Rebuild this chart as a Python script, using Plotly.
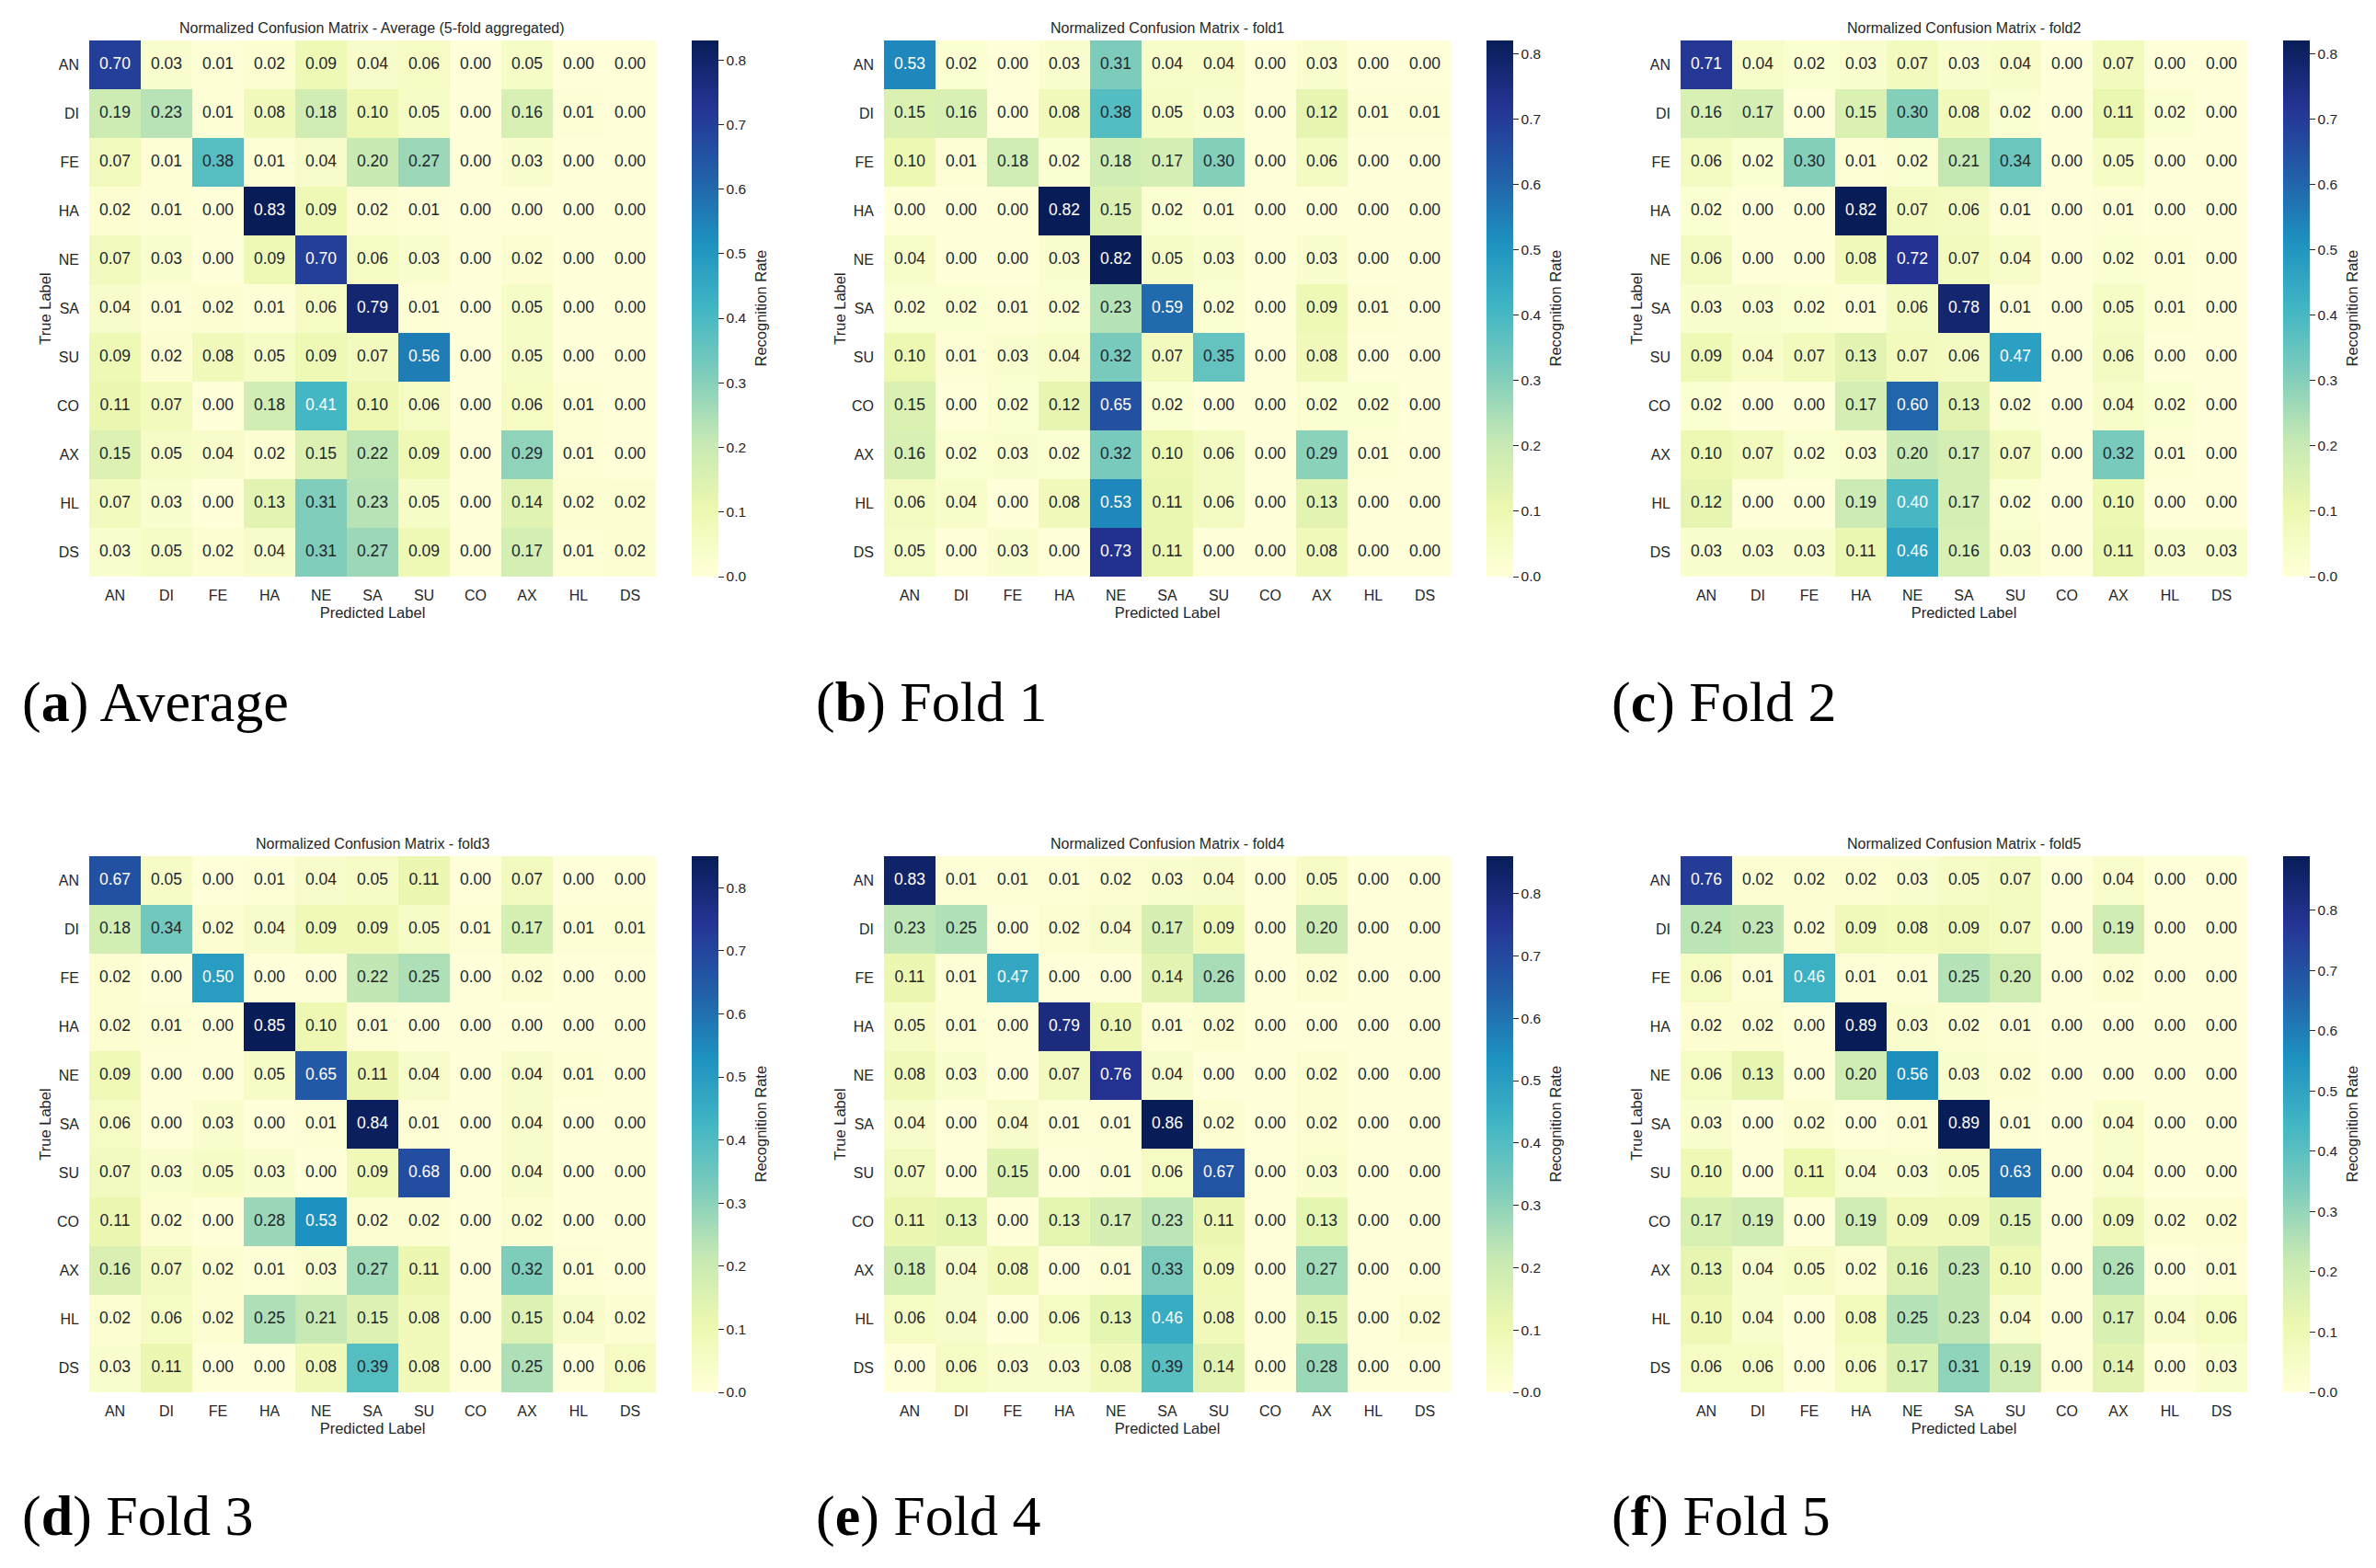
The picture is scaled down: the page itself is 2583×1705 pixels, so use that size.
import plotly.graph_objects as go
from plotly.colors import sequential, sample_colorscale

labels = ["AN", "DI", "FE", "HA", "NE", "SA", "SU", "CO", "AX", "HL", "DS"]

avg = [
    [0.70, 0.03, 0.01, 0.02, 0.09, 0.04, 0.06, 0.00, 0.05, 0.00, 0.00],
    [0.19, 0.23, 0.01, 0.08, 0.18, 0.10, 0.05, 0.00, 0.16, 0.01, 0.00],
    [0.07, 0.01, 0.38, 0.01, 0.04, 0.20, 0.27, 0.00, 0.03, 0.00, 0.00],
    [0.02, 0.01, 0.00, 0.83, 0.09, 0.02, 0.01, 0.00, 0.00, 0.00, 0.00],
    [0.07, 0.03, 0.00, 0.09, 0.70, 0.06, 0.03, 0.00, 0.02, 0.00, 0.00],
    [0.04, 0.01, 0.02, 0.01, 0.06, 0.79, 0.01, 0.00, 0.05, 0.00, 0.00],
    [0.09, 0.02, 0.08, 0.05, 0.09, 0.07, 0.56, 0.00, 0.05, 0.00, 0.00],
    [0.11, 0.07, 0.00, 0.18, 0.41, 0.10, 0.06, 0.00, 0.06, 0.01, 0.00],
    [0.15, 0.05, 0.04, 0.02, 0.15, 0.22, 0.09, 0.00, 0.29, 0.01, 0.00],
    [0.07, 0.03, 0.00, 0.13, 0.31, 0.23, 0.05, 0.00, 0.14, 0.02, 0.02],
    [0.03, 0.05, 0.02, 0.04, 0.31, 0.27, 0.09, 0.00, 0.17, 0.01, 0.02],
]
fold1 = [
    [0.53, 0.02, 0.00, 0.03, 0.31, 0.04, 0.04, 0.00, 0.03, 0.00, 0.00],
    [0.15, 0.16, 0.00, 0.08, 0.38, 0.05, 0.03, 0.00, 0.12, 0.01, 0.01],
    [0.10, 0.01, 0.18, 0.02, 0.18, 0.17, 0.30, 0.00, 0.06, 0.00, 0.00],
    [0.00, 0.00, 0.00, 0.82, 0.15, 0.02, 0.01, 0.00, 0.00, 0.00, 0.00],
    [0.04, 0.00, 0.00, 0.03, 0.82, 0.05, 0.03, 0.00, 0.03, 0.00, 0.00],
    [0.02, 0.02, 0.01, 0.02, 0.23, 0.59, 0.02, 0.00, 0.09, 0.01, 0.00],
    [0.10, 0.01, 0.03, 0.04, 0.32, 0.07, 0.35, 0.00, 0.08, 0.00, 0.00],
    [0.15, 0.00, 0.02, 0.12, 0.65, 0.02, 0.00, 0.00, 0.02, 0.02, 0.00],
    [0.16, 0.02, 0.03, 0.02, 0.32, 0.10, 0.06, 0.00, 0.29, 0.01, 0.00],
    [0.06, 0.04, 0.00, 0.08, 0.53, 0.11, 0.06, 0.00, 0.13, 0.00, 0.00],
    [0.05, 0.00, 0.03, 0.00, 0.73, 0.11, 0.00, 0.00, 0.08, 0.00, 0.00],
]
fold2 = [
    [0.71, 0.04, 0.02, 0.03, 0.07, 0.03, 0.04, 0.00, 0.07, 0.00, 0.00],
    [0.16, 0.17, 0.00, 0.15, 0.30, 0.08, 0.02, 0.00, 0.11, 0.02, 0.00],
    [0.06, 0.02, 0.30, 0.01, 0.02, 0.21, 0.34, 0.00, 0.05, 0.00, 0.00],
    [0.02, 0.00, 0.00, 0.82, 0.07, 0.06, 0.01, 0.00, 0.01, 0.00, 0.00],
    [0.06, 0.00, 0.00, 0.08, 0.72, 0.07, 0.04, 0.00, 0.02, 0.01, 0.00],
    [0.03, 0.03, 0.02, 0.01, 0.06, 0.78, 0.01, 0.00, 0.05, 0.01, 0.00],
    [0.09, 0.04, 0.07, 0.13, 0.07, 0.06, 0.47, 0.00, 0.06, 0.00, 0.00],
    [0.02, 0.00, 0.00, 0.17, 0.60, 0.13, 0.02, 0.00, 0.04, 0.02, 0.00],
    [0.10, 0.07, 0.02, 0.03, 0.20, 0.17, 0.07, 0.00, 0.32, 0.01, 0.00],
    [0.12, 0.00, 0.00, 0.19, 0.40, 0.17, 0.02, 0.00, 0.10, 0.00, 0.00],
    [0.03, 0.03, 0.03, 0.11, 0.46, 0.16, 0.03, 0.00, 0.11, 0.03, 0.03],
]
fold3 = [
    [0.67, 0.05, 0.00, 0.01, 0.04, 0.05, 0.11, 0.00, 0.07, 0.00, 0.00],
    [0.18, 0.34, 0.02, 0.04, 0.09, 0.09, 0.05, 0.01, 0.17, 0.01, 0.01],
    [0.02, 0.00, 0.50, 0.00, 0.00, 0.22, 0.25, 0.00, 0.02, 0.00, 0.00],
    [0.02, 0.01, 0.00, 0.85, 0.10, 0.01, 0.00, 0.00, 0.00, 0.00, 0.00],
    [0.09, 0.00, 0.00, 0.05, 0.65, 0.11, 0.04, 0.00, 0.04, 0.01, 0.00],
    [0.06, 0.00, 0.03, 0.00, 0.01, 0.84, 0.01, 0.00, 0.04, 0.00, 0.00],
    [0.07, 0.03, 0.05, 0.03, 0.00, 0.09, 0.68, 0.00, 0.04, 0.00, 0.00],
    [0.11, 0.02, 0.00, 0.28, 0.53, 0.02, 0.02, 0.00, 0.02, 0.00, 0.00],
    [0.16, 0.07, 0.02, 0.01, 0.03, 0.27, 0.11, 0.00, 0.32, 0.01, 0.00],
    [0.02, 0.06, 0.02, 0.25, 0.21, 0.15, 0.08, 0.00, 0.15, 0.04, 0.02],
    [0.03, 0.11, 0.00, 0.00, 0.08, 0.39, 0.08, 0.00, 0.25, 0.00, 0.06],
]
fold4 = [
    [0.83, 0.01, 0.01, 0.01, 0.02, 0.03, 0.04, 0.00, 0.05, 0.00, 0.00],
    [0.23, 0.25, 0.00, 0.02, 0.04, 0.17, 0.09, 0.00, 0.20, 0.00, 0.00],
    [0.11, 0.01, 0.47, 0.00, 0.00, 0.14, 0.26, 0.00, 0.02, 0.00, 0.00],
    [0.05, 0.01, 0.00, 0.79, 0.10, 0.01, 0.02, 0.00, 0.00, 0.00, 0.00],
    [0.08, 0.03, 0.00, 0.07, 0.76, 0.04, 0.00, 0.00, 0.02, 0.00, 0.00],
    [0.04, 0.00, 0.04, 0.01, 0.01, 0.86, 0.02, 0.00, 0.02, 0.00, 0.00],
    [0.07, 0.00, 0.15, 0.00, 0.01, 0.06, 0.67, 0.00, 0.03, 0.00, 0.00],
    [0.11, 0.13, 0.00, 0.13, 0.17, 0.23, 0.11, 0.00, 0.13, 0.00, 0.00],
    [0.18, 0.04, 0.08, 0.00, 0.01, 0.33, 0.09, 0.00, 0.27, 0.00, 0.00],
    [0.06, 0.04, 0.00, 0.06, 0.13, 0.46, 0.08, 0.00, 0.15, 0.00, 0.02],
    [0.00, 0.06, 0.03, 0.03, 0.08, 0.39, 0.14, 0.00, 0.28, 0.00, 0.00],
]
fold5 = [
    [0.76, 0.02, 0.02, 0.02, 0.03, 0.05, 0.07, 0.00, 0.04, 0.00, 0.00],
    [0.24, 0.23, 0.02, 0.09, 0.08, 0.09, 0.07, 0.00, 0.19, 0.00, 0.00],
    [0.06, 0.01, 0.46, 0.01, 0.01, 0.25, 0.20, 0.00, 0.02, 0.00, 0.00],
    [0.02, 0.02, 0.00, 0.89, 0.03, 0.02, 0.01, 0.00, 0.00, 0.00, 0.00],
    [0.06, 0.13, 0.00, 0.20, 0.56, 0.03, 0.02, 0.00, 0.00, 0.00, 0.00],
    [0.03, 0.00, 0.02, 0.00, 0.01, 0.89, 0.01, 0.00, 0.04, 0.00, 0.00],
    [0.10, 0.00, 0.11, 0.04, 0.03, 0.05, 0.63, 0.00, 0.04, 0.00, 0.00],
    [0.17, 0.19, 0.00, 0.19, 0.09, 0.09, 0.15, 0.00, 0.09, 0.02, 0.02],
    [0.13, 0.04, 0.05, 0.02, 0.16, 0.23, 0.10, 0.00, 0.26, 0.00, 0.01],
    [0.10, 0.04, 0.00, 0.08, 0.25, 0.23, 0.04, 0.00, 0.17, 0.04, 0.06],
    [0.06, 0.06, 0.00, 0.06, 0.17, 0.31, 0.19, 0.00, 0.14, 0.00, 0.03],
]

matrices = [avg, fold1, fold2, fold3, fold4, fold5]
titles = ["Average (5-fold aggregated)", "fold1", "fold2", "fold3", "fold4", "fold5"]
captions = [("a", "Average"), ("b", "Fold 1"), ("c", "Fold 2"),
            ("d", "Fold 3"), ("e", "Fold 4"), ("f", "Fold 5")]
cbar_ticks = [0.0, 0.1, 0.2, 0.3, 0.4, 0.5, 0.6, 0.7, 0.8]

# page is 2583x1705, the html body adds an 8px margin
PAGE_W, PAGE_H = 2583, 1705
OFF = 8
W, H = PAGE_W - 2 * OFF, PAGE_H - 2 * OFF

# pixel layout of each panel (page coordinates)
hm_left = [97, 961, 1827]
hm_top = [44, 931]
hm_w, hm_h = 616, 583
cb_off = 655
cbt_off = 729
cap_x = [22, 885, 1750]
cap_y = [763, 1648]

SANS = "Liberation Sans, Arial, sans-serif"
TXT = "#262626"
scale = [[i / (len(sequential.YlGnBu) - 1), c] for i, c in enumerate(sequential.YlGnBu)]


def px(x):
    return (x - OFF) / W


def py(y):
    return 1 - (y - OFF) / H


def lum(rgb):
    vals = [int(v) for v in rgb[rgb.index("(") + 1:-1].split(",")]
    out = []
    for v in vals:
        v = v / 255.0
        out.append(v / 12.92 if v <= 0.03928 else ((v + 0.055) / 1.055) ** 2.4)
    return 0.2126 * out[0] + 0.7152 * out[1] + 0.0722 * out[2]


fig = go.Figure()
layout = {}
annotations = []

for k, mat in enumerate(matrices):
    row, col = divmod(k, 3)
    n = k + 1
    sfx = "" if n == 1 else str(n)
    x0 = hm_left[col]
    y0 = hm_top[row]
    zmax = max(max(r) for r in mat)

    fig.add_trace(go.Heatmap(
        z=mat, x=labels, y=labels,
        coloraxis="coloraxis" + sfx,
        xaxis="x" + sfx, yaxis="y" + sfx,
        xgap=0, ygap=0, hoverinfo="skip",
    ))

    # cell labels, white on dark cells like seaborn
    xs, ys, ts, cs = [], [], [], []
    for i, r in enumerate(mat):
        for j, v in enumerate(r):
            c = sample_colorscale(scale, [v / zmax])[0]
            xs.append(labels[j])
            ys.append(labels[i])
            ts.append("%.2f" % v)
            cs.append(TXT if lum(c) > 0.408 else "white")
    fig.add_trace(go.Scatter(
        x=xs, y=ys, text=ts, mode="text",
        textfont=dict(family=SANS, size=17.5, color=cs),
        xaxis="x" + sfx, yaxis="y" + sfx,
        hoverinfo="skip", showlegend=False,
    ))

    layout["xaxis" + sfx] = dict(
        domain=[px(x0), px(x0 + hm_w)], anchor="y" + sfx,
        range=[-0.5, len(labels) - 0.5],
        showgrid=False, zeroline=False, showline=False, ticks="",
        ticklabelstandoff=9,
        tickfont=dict(family=SANS, size=16, color=TXT),
        title=dict(text="Predicted Label", standoff=5,
                   font=dict(family=SANS, size=16.5, color=TXT)),
    )
    layout["yaxis" + sfx] = dict(
        domain=[py(y0 + hm_h), py(y0)], anchor="x" + sfx,
        range=[len(labels) - 0.5, -0.5],
        showgrid=False, zeroline=False, showline=False, ticks="",
        ticklabelstandoff=10,
        tickfont=dict(family=SANS, size=16, color=TXT),
        title=dict(text="True Label", standoff=2,
                   font=dict(family=SANS, size=16.5, color=TXT)),
    )
    layout["coloraxis" + sfx] = dict(
        colorscale=scale, cmin=0, cmax=zmax,
        colorbar=dict(
            x=px(x0 + cb_off), xanchor="left", xpad=0,
            y=py(y0 + hm_h / 2), yanchor="middle", ypad=0,
            len=hm_h / H, lenmode="fraction",
            thickness=29, thicknessmode="pixels",
            outlinewidth=0,
            ticks="outside", ticklen=6, tickwidth=1, tickcolor=TXT,
            tickvals=cbar_ticks, ticktext=["%.1f" % t for t in cbar_ticks],
            tickfont=dict(family=SANS, size=15.5, color=TXT),
        ),
    )

    annotations.append(dict(
        text="Recognition Rate", textangle=-90,
        x=px(x0 + cbt_off), y=py(y0 + hm_h / 2), xref="paper", yref="paper",
        xanchor="center", yanchor="middle", showarrow=False,
        font=dict(family=SANS, size=16.5, color=TXT),
    ))
    annotations.append(dict(
        text="Normalized Confusion Matrix - " + titles[k],
        x=px(x0 + hm_w / 2), y=py(y0 - 13), xref="paper", yref="paper",
        xanchor="center", yanchor="middle", showarrow=False,
        font=dict(family=SANS, size=16, color=TXT),
    ))
    annotations.append(dict(
        text="(<b>%s</b>) %s" % captions[k],
        x=px(cap_x[col]), y=py(cap_y[row]), xref="paper", yref="paper",
        xanchor="left", yanchor="middle", showarrow=False,
        font=dict(family="Liberation Serif, Times New Roman, serif", size=62, color="black"),
    ))

fig.update_layout(
    width=W, height=H,
    margin=dict(l=0, r=0, t=0, b=0),
    paper_bgcolor="white", plot_bgcolor="white",
    showlegend=False,
    annotations=annotations,
    **layout,
)

fig.write_html("out.html")
